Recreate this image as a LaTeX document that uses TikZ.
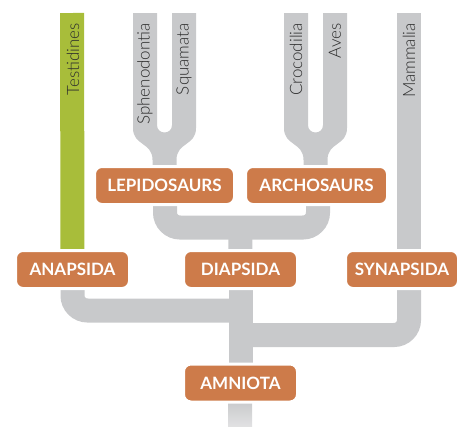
\documentclass[tikz,border=0pt]{standalone}
\usepackage{fontspec}
\setmainfont{Lato}
\newfontfamily\taxonfont{Lato Light}
\definecolor{branchgray}{RGB}{200,201,203}
\definecolor{turtlegreen}{RGB}{168,189,58}
\definecolor{cladeorange}{RGB}{205,123,74}
\definecolor{labelgray}{RGB}{45,45,45}
\pgfdeclarelayer{back}
\pgfsetlayers{back,main}
\tikzset{
  bar/.style={draw=branchgray, line width=24pt, rounded corners=15pt},
  clade/.style={fill=cladeorange, draw=white, line width=2pt, rounded corners=7pt,
    text=white, font=\bfseries\fontsize{17}{17}\selectfont, inner sep=0pt,
    minimum height=37pt},
  taxon/.style={rotate=90, anchor=east, text=labelgray, inner sep=0pt,
    font=\taxonfont\fontsize{17}{17}\selectfont},
  tuningfork/.pic={
    \fill[branchgray] (-31.5,13) -- (-31.5,128)
      .. controls (-31.5,146) and (-12,142) .. (-12,160) -- (-12,175) -- (12,175) -- (12,160)
      .. controls (12,142) and (31.5,146) .. (31.5,128) -- (31.5,13) -- (7.5,13) -- (7.5,125)
      .. controls (7.5,135) and (-7.5,135) .. (-7.5,125) -- (-7.5,13) -- cycle;
  }
}
\begin{document}
\begin{tikzpicture}[x=1pt, y=-1pt]
\useasboundingbox (0,0) rectangle (458,426);

% clade boxes
\node[clade, minimum width=139pt] (lepido) at (164.5,185.5) {LEPIDOSAURS};
\node[clade, minimum width=141pt] (archo)  at (316.5,185.5) {ARCHOSAURS};
\node[clade, minimum width=113pt] (anap)   at (72.5,269.5)  {ANAPSIDA};
\node[clade, minimum width=113pt] (diap)   at (240.5,269.5) {DIAPSIDA};
\node[clade, minimum width=112pt] (synap)  at (402,269.5)   {SYNAPSIDA};
\node[clade, minimum width=113pt] (amnio)  at (240.5,383)   {AMNIOTA};

% junction points and free ends
\coordinate (topT) at (72,13);
\coordinate (topM) at (409,13);
\coordinate (jdiap) at (240,227.5);
\coordinate (janap) at (240,310.5);
\coordinate (jsynap) at (240,335);

% branches, beneath the boxes
\begin{pgfonlayer}{back}
  \pic at (164.5,0) {tuningfork};
  \pic at (315.5,0) {tuningfork};
  \draw[bar] (165,200) -- (165,227.5) -- (318,227.5) -- (318,200);
  \draw[bar] (jdiap) -- (diap.north);
  \draw[draw=turtlegreen, line width=24pt] (topT) -- (anap.north);
  \draw[bar] (topM) -- (409,269.5);
  \draw[bar] (anap.south) |- (janap);
  \draw[bar] (409,269.5) |- (jsynap);
  \draw[bar, rounded corners=0pt] (diap.south) -- (amnio.north);
  \shade[top color=branchgray, bottom color=branchgray!55!white]
    (228,401) rectangle (252,426);
\end{pgfonlayer}

% white rims of the boxes over the branches
\foreach \n in {lepido,archo,anap,diap,synap,amnio}{
  \draw[white, line width=2pt, rounded corners=7pt] (\n.north west) rectangle (\n.south east);
}

% taxon names
\node[taxon] (testi) at (73,23)    {Testidines};
\node[taxon] (spheno) at (145,23)  {Sphenodontia};
\node[taxon] (squam) at (184,23)   {Squamata};
\node[taxon] (croco) at (296,23)   {Crocodilia};
\node[taxon] (aves) at (335,23)    {Aves};
\node[taxon] (mamm) at (409,23)    {Mammalia};
\end{tikzpicture}
\end{document}
